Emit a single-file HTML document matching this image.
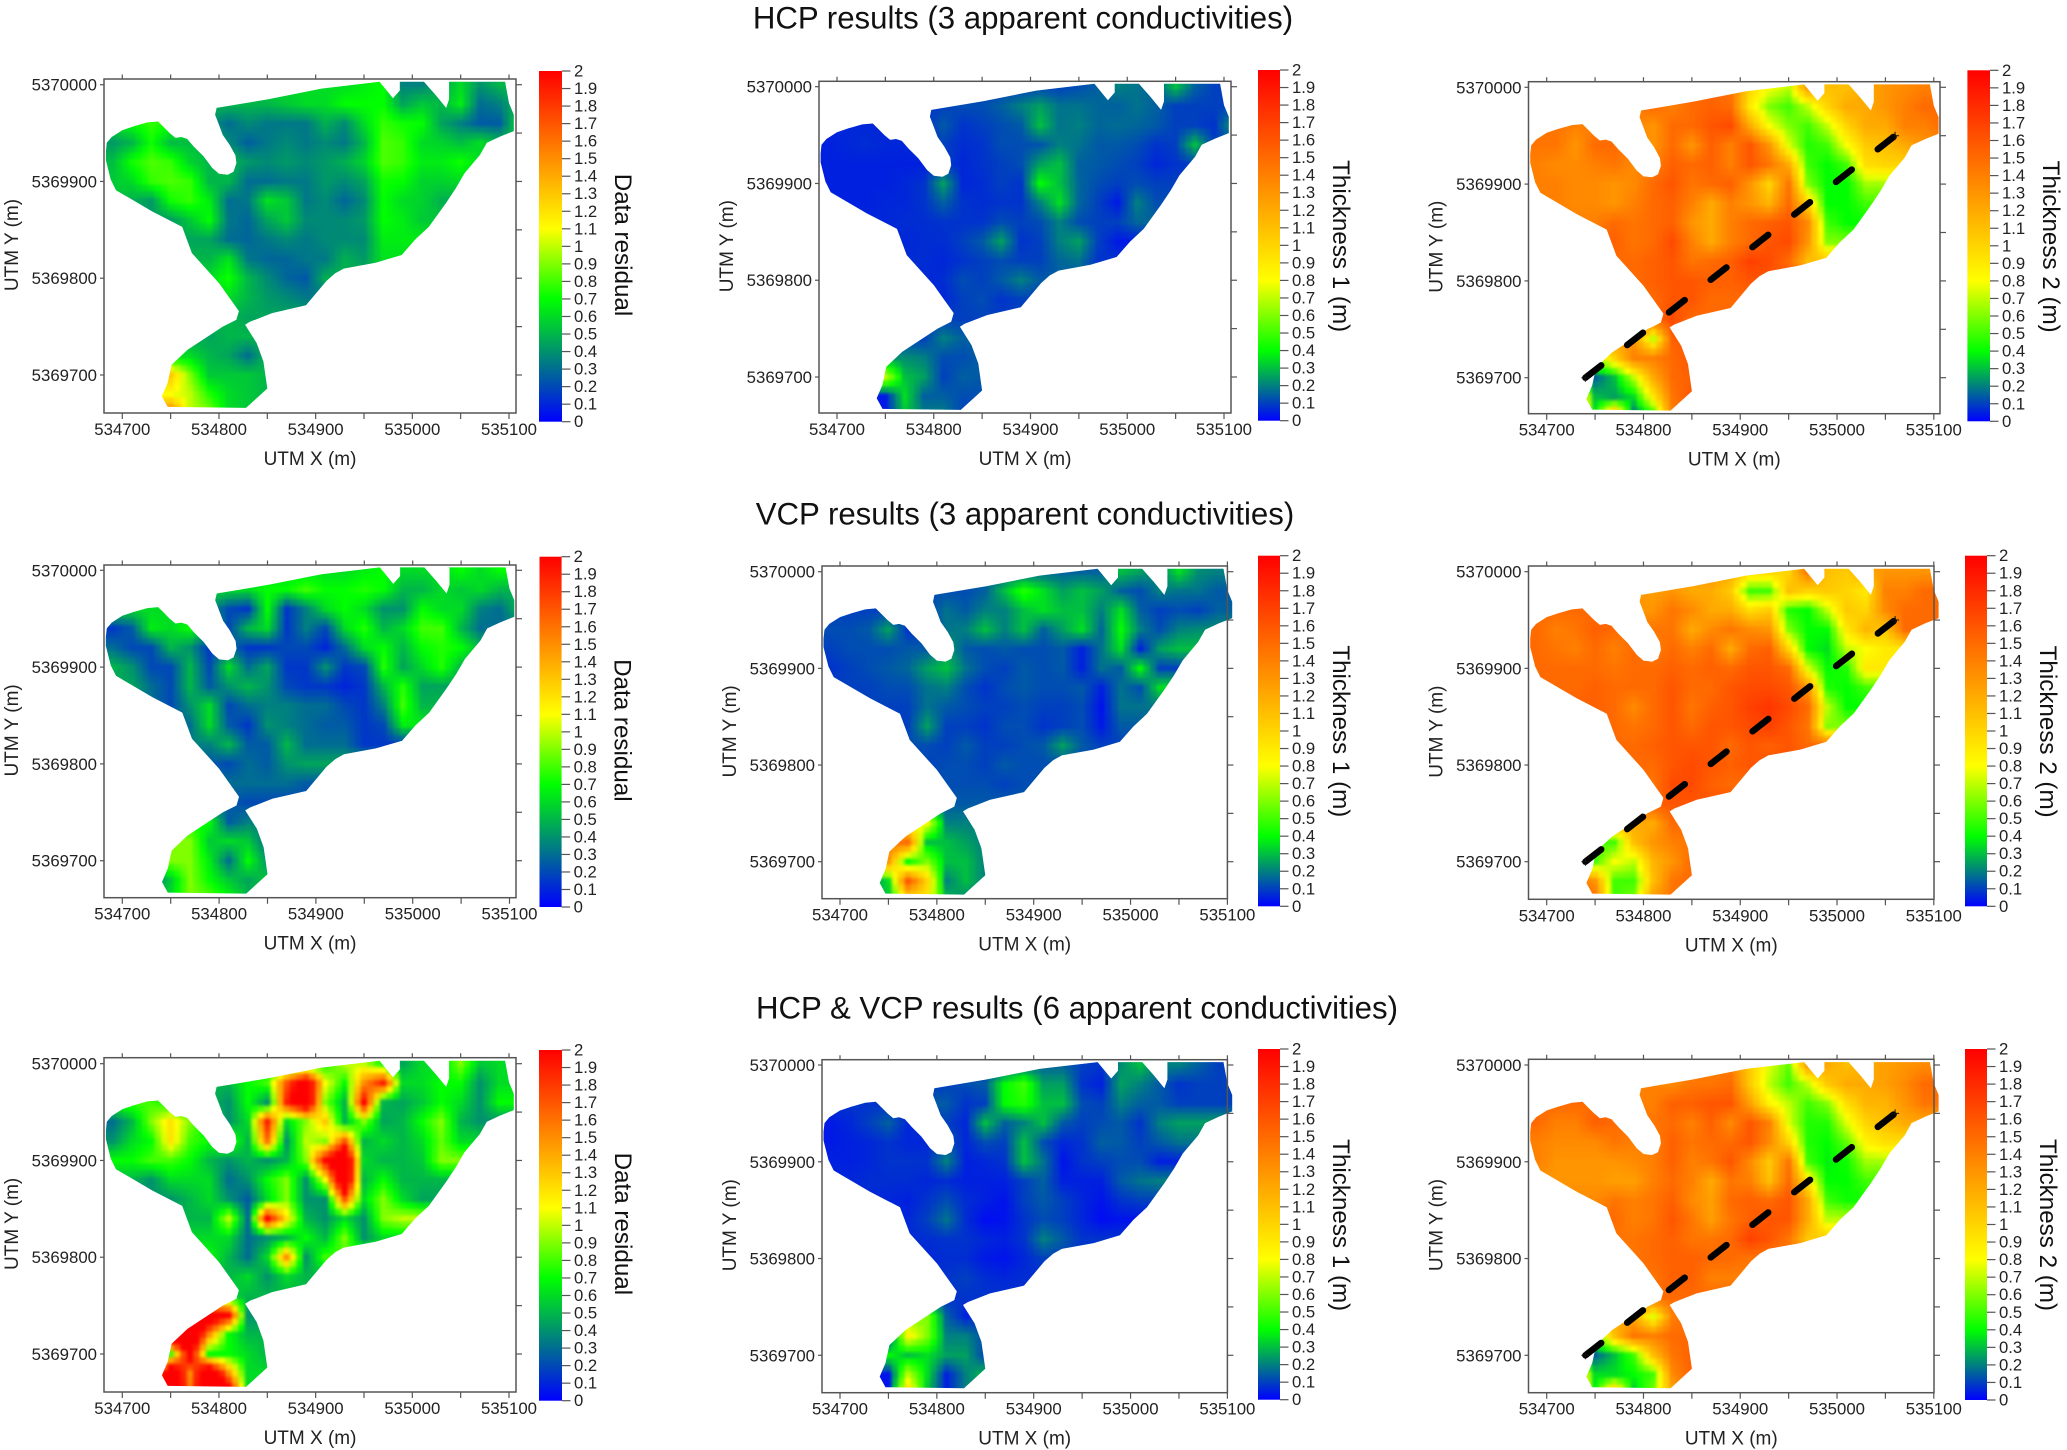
<!DOCTYPE html>
<html lang="en">
<head>
<meta charset="utf-8">
<title>HCP and VCP inversion results</title>
<style>
html,body{margin:0;padding:0;background:#fff;}
svg{display:block;font-family:"Liberation Sans",Arial,sans-serif;}
</style>
</head>
<body>
<svg id="figure" xmlns="http://www.w3.org/2000/svg" width="2067" height="1450" viewBox="0 0 2067 1450">
  <defs>
    <filter id="soft" x="-6%" y="-6%" width="112%" height="112%" color-interpolation-filters="sRGB">
      <feGaussianBlur stdDeviation="1.6"/>
    </filter>
  </defs>
  <rect width="2067" height="1450" fill="#fff"/>
  <text x="1023" y="28.5" font-size="31.2" text-anchor="middle" fill="#111">HCP results (3 apparent conductivities)</text>
  <text x="1025" y="524.3" font-size="31.2" text-anchor="middle" fill="#111">VCP results (3 apparent conductivities)</text>
  <text x="1077" y="1018.3" font-size="31.2" text-anchor="middle" fill="#111">HCP &amp; VCP results (6 apparent conductivities)</text>
</svg>
<script>
// ---- Axis tick values and colorbar labels
const xTickValues = [534700,534750,534800,534850,534900,534950,535000,535050,535100];
const yTickValues = [5370000,5369950,5369900,5369850,5369800,5369750,5369700];
const colorbarTicks = [0,0.1,0.2,0.3,0.4,0.5,0.6,0.7,0.8,0.9,1,1.1,1.2,1.3,1.4,1.5,1.6,1.7,1.8,1.9,2];

// ---- Survey footprint outline, UTM metres
const footprintX = [534683,534684,534689,534700,534712,534726,534737,534742,534749,534755,534761,534767,534774,534784,534793,534800,534809,534815,534818,534817,534811,534804,534800,534796,534797.5,534851,534906,534966,534980,534987,534987,535012,535024,535035,535038,535038,535096,535100,535105,535105,535091,535077,535070,535054,535045,535035,535017,535003,534989,534962,534929,534920,534911,534890,534855,534832,534827,534839,534846,534850,534828,534747,534741,534747,534751,534767.5,534804,534818,534820.6,534800,534772,534762,534731,534693.5,534688,534683];
const footprintY = [5369931,5369940,5369946,5369953,5369957,5369961,5369962,5369957,5369950,5369945,5369946,5369944,5369936,5369926,5369914,5369908,5369907,5369910,5369919,5369927,5369938,5369948,5369958.5,5369969,5369976,5369985,5369996,5370003,5369986,5369994,5370003,5370003,5369989.5,5369976,5369985,5370003,5370003,5369981,5369969,5369952,5369946.5,5369940,5369927.5,5369908.5,5369893,5369878,5369853,5369840,5369824,5369816,5369810,5369805,5369797,5369772,5369764,5369755,5369752,5369733,5369714,5369686,5369666,5369667,5369678,5369692,5369710.5,5369726,5369750,5369757,5369766,5369795,5369826,5369853,5369869,5369891,5369902,5369922];

// ---- Profile line shown on the thickness 2 maps
const profileX = [534740,535060];
const profileY = [5369700,5369950];

// ---- Grid axes: cell centres
const gridStartX = 534690;
const gridStartY = 5370000;
const gridStep = 20;

// ---- Map values in hundredths, one row per 20 m northing
const hcpResidual = [
[60,60,60,60,60,60,60,60,60,60,60,60,60,65,70,35,35,45,60,40,50,50],
[60,60,60,60,60,50,50,50,50,55,60,60,70,70,70,45,55,50,65,30,35,50],
[60,70,78,72,60,40,30,38,33,33,33,48,38,60,78,72,70,45,35,25,25,60],
[42,50,72,52,52,50,38,26,33,38,33,38,33,50,82,78,60,58,52,60,50,50],
[52,72,82,78,58,50,50,42,38,42,38,42,48,58,82,78,65,65,72,60],
[55,60,78,82,78,50,50,30,30,33,33,42,38,45,72,70,58,58,60],
[55,48,42,72,78,65,30,33,62,55,33,38,28,38,70,60,58,48],
[50,50,42,42,55,70,33,28,45,55,38,38,38,42,70,65,55],
[50,50,48,48,45,45,30,28,33,38,33,38,38,38,65,65],
[50,50,50,50,50,50,62,33,28,28,33,33,48,42,62],
[60,60,60,60,60,60,72,50,38,28,24,48],
[60,60,60,60,60,60,60,50,42,38,33],
[50,50,50,50,50,50,50,45],
[45,45,45,45,45,45,50,50],
[60,60,60,60,60,50,45,30,50],
[130,130,130,130,90,55,55,55,50],
[110,110,110,110,100,75,60,55,50],
[160,160,160,160,100,90,60,55]
];
const hcpThickness1 = [
[10,10,10,10,10,10,10,10,10,10,10,10,10,12,15,20,18,15,30,15,10],
[8,8,8,8,8,8,10,12,12,15,20,25,18,18,16,15,18,15,10,10,10],
[6,6,6,6,6,8,14,8,10,12,14,30,18,20,16,17,16,14,10,10,8,25],
[5,6,7,6,6,8,10,7,8,12,12,13,20,18,14,14,12,8,10,30,10],
[5,5,5,5,5,5,10,6,8,10,12,25,30,15,14,12,10,6,8,10],
[5,5,5,5,6,8,25,6,7,10,8,40,30,16,12,10,12,10,10],
[5,5,5,6,6,8,15,8,7,8,8,20,35,16,10,4,20,12],
[6,6,6,6,7,7,8,8,8,12,10,12,20,12,10,10,16],
[6,6,6,6,6,7,7,10,14,25,8,10,20,25,10,4],
[7,7,7,7,7,7,6,8,10,12,10,10,16,18,8],
[6,6,6,6,6,6,7,12,10,14,20,14],
[8,8,8,8,8,8,6,10,12,8,10],
[10,10,10,10,10,10,10,10],
[10,10,10,10,10,10,20,15],
[22,22,22,22,22,20,12,12,15],
[70,70,70,70,30,25,10,15,14],
[4,4,4,4,35,15,15,12,12],
[4,4,4,4,30,20,20,10]
];
const hcpThickness2 = [
[150,150,150,150,150,150,150,150,150,150,145,100,80,70,130,110,110,120,130,135,140],
[145,145,145,145,145,140,150,140,150,155,150,90,60,50,70,100,120,120,130,140,150],
[145,145,140,140,140,140,130,150,150,160,165,120,80,60,50,70,100,120,120,140,140,150],
[145,145,130,150,150,140,130,150,130,155,140,160,130,75,45,50,80,105,110,120,130],
[140,135,135,140,145,135,140,155,150,155,140,160,145,120,50,40,50,95,100,100],
[140,140,135,135,130,135,150,160,145,150,155,130,100,145,60,40,40,65,65],
[140,140,135,135,130,140,150,155,140,120,140,130,115,150,100,40,40,50],
[140,140,140,140,150,145,150,155,130,120,140,150,155,160,135,50,40],
[155,155,155,155,155,145,150,165,140,120,140,150,160,165,130,60],
[150,150,150,150,150,150,155,160,145,150,155,170,165,150,110],
[150,150,150,150,150,150,155,160,160,155,155,160],
[150,150,150,150,150,150,150,160,160,150,150],
[150,150,150,150,150,150,150,165,150],
[130,130,130,130,130,130,70,155,160],
[60,60,60,60,100,140,140,150,160],
[15,15,15,15,30,70,120,150,155],
[140,140,140,30,25,35,90,145,160],
[140,140,140,40,130,15,40,140,155]
];
const vcpResidual = [
[60,60,60,60,60,60,60,60,60,60,60,60,60,65,70,60,60,60,70,60,70],
[60,60,60,60,60,60,60,60,70,70,80,70,70,75,70,50,50,60,55,60,50],
[60,60,60,60,60,40,20,15,70,15,35,60,70,60,40,40,70,60,60,35,30,50],
[15,25,65,60,70,50,20,50,60,15,35,20,60,75,50,60,80,80,50,30,30],
[30,20,20,50,40,15,30,15,15,20,20,10,30,60,70,50,70,75,70,50],
[50,40,20,20,50,20,60,30,45,15,15,40,15,20,75,45,60,75,50],
[45,45,30,20,50,25,40,50,40,20,15,15,10,15,50,75,45,45],
[30,30,30,20,40,60,20,30,35,35,30,30,20,15,35,80,50],
[30,30,30,30,30,60,25,15,40,35,30,25,25,15,20,65],
[35,35,35,35,35,35,50,25,25,50,30,30,30,15,15],
[25,25,25,25,25,25,20,30,25,40,45],
[30,30,30,30,30,30,30,30,30,30,25],
[25,25,25,25,25,25,25,20],
[70,70,70,70,70,70,25,35],
[90,90,90,90,90,55,60,55,30],
[90,90,90,90,90,65,30,70,40],
[30,30,30,55,90,70,55,45,55],
[60,60,60,60,90,85,70,50]
];
const vcpThickness1 = [
[15,15,15,15,15,15,15,15,15,15,15,15,15,15,15,30,25,20,35,22,20],
[12,12,12,12,12,12,12,12,15,30,45,35,25,30,25,15,12,20,18,18,14],
[10,10,10,10,10,10,18,14,20,20,30,35,30,30,20,35,15,10,12,10,15],
[12,12,14,25,8,10,18,20,30,20,30,15,25,35,16,40,20,12,20,22,22],
[10,12,12,12,14,14,25,14,12,14,12,12,14,5,18,35,5,25,30,30],
[8,10,12,14,16,25,30,18,12,10,14,12,14,5,18,14,40,10,10],
[10,10,10,12,12,18,20,12,8,12,14,12,12,14,5,18,12,35],
[10,10,10,10,10,18,14,12,10,10,12,10,10,12,3,18,18],
[10,10,10,10,10,25,10,10,8,12,12,8,10,12,4,14],
[12,12,12,12,12,12,10,14,10,10,12,14,25,14,10],
[10,10,10,10,10,10,12,12,10,14,12],
[12,12,12,12,12,12,12,12,12,10,12],
[14,14,14,14,14,14,14,14],
[80,80,80,80,80,80,20,20],
[140,140,140,140,150,30,30,25,20],
[130,130,130,130,40,60,30,30,20],
[20,20,20,35,160,100,20,30,20],
[30,30,30,30,90,90,30,20]
];
const vcpThickness2 = [
[130,130,130,130,130,130,130,130,130,130,120,100,100,100,145,110,105,120,130,130,130],
[150,150,150,150,150,130,125,130,120,120,105,50,50,110,100,105,100,90,140,140,150],
[150,150,150,150,150,130,130,145,135,120,120,95,105,45,40,70,105,100,135,150,150],
[150,140,145,155,150,145,145,145,120,135,145,135,130,60,40,40,90,115,105,150,150],
[150,145,140,150,140,150,140,150,140,150,120,150,155,100,40,35,70,80,90,90],
[150,150,150,150,145,150,150,155,150,155,150,160,160,150,75,40,45,90,90],
[150,150,150,155,150,150,150,160,150,150,160,165,165,160,130,45,40,50],
[155,155,155,155,150,135,150,160,145,155,160,170,175,165,150,70,40],
[150,150,150,150,150,145,150,160,150,160,160,165,170,160,145,60],
[150,150,150,150,150,150,155,160,160,160,150,160,155,160,150],
[150,150,150,150,150,150,150,160,165,160,155,160],
[150,150,150,150,150,150,145,165,165,155,150],
[155,155,155,155,155,155,155,160],
[120,120,120,120,120,120,120,150,150],
[50,50,50,50,50,110,130,140,145],
[50,50,50,50,80,70,115,130,150],
[150,150,150,130,50,50,110,145,150],
[150,150,150,150,50,60,130,145]
];
const jointResidual = [
[60,60,60,60,60,60,60,60,60,60,60,70,100,100,70,45,60,60,90,55,60],
[50,50,50,50,50,50,50,70,80,170,230,110,70,150,190,60,60,70,70,40,60],
[70,80,80,70,60,50,40,70,40,190,240,90,50,200,50,45,55,70,60,40,70],
[30,50,90,120,90,60,40,60,190,60,90,130,50,90,45,50,70,90,50,40,40],
[40,60,70,120,80,70,80,50,160,40,100,90,170,50,60,50,60,85,60,60],
[70,70,80,80,70,50,40,50,40,50,90,200,260,60,50,50,55,90,90],
[50,50,40,60,60,60,30,40,70,90,40,110,260,50,70,50,50,50],
[40,40,40,40,50,60,40,25,60,90,40,40,170,60,90,60,45],
[50,50,50,50,50,50,100,30,200,120,50,40,60,40,90,100],
[60,60,60,60,60,60,60,30,40,50,70,50,90,40,60],
[70,70,70,70,70,70,50,30,60,150,40,80],
[50,50,50,50,50,50,50,60,40,60,50],
[40,40,40,40,40,60,60,50],
[240,240,240,240,240,240,200,40],
[260,260,260,260,260,150,70,50,50],
[80,80,80,80,220,70,70,60,50],
[80,80,80,260,150,260,150,60,60],
[260,260,260,260,160,260,230,60]
];
const jointThickness1 = [
[10,10,10,10,10,10,10,10,10,10,15,15,15,10,8,22,30,20,20,15,10],
[8,8,8,8,8,8,10,12,14,40,50,25,25,8,5,25,20,14,8,10,10],
[8,8,8,8,8,15,14,8,10,40,45,30,30,12,10,20,15,14,10,10,10],
[4,6,10,15,6,8,10,6,30,15,20,30,14,10,12,14,8,20,25,25],
[4,5,6,8,6,6,14,6,12,10,30,12,6,8,15,14,10,14,18,18],
[5,5,6,8,8,8,20,5,6,8,30,18,3,8,10,12,12,5,5],
[6,6,7,7,7,6,7,5,5,5,10,15,5,5,5,14,18,20],
[6,6,6,6,5,8,12,7,5,3,10,14,10,6,3,8,10],
[6,6,6,6,6,10,18,7,2,3,8,12,10,6,2,3],
[7,7,7,7,7,7,8,8,6,5,8,20,14,8],
[6,6,6,6,6,6,7,7,4,3,6,10],
[8,8,8,8,8,8,8,10,7,6,7],
[8,8,8,8,8,8,8,8],
[60,60,60,60,60,60,15,5,10],
[5,5,5,5,85,60,20,20,12],
[40,40,40,40,30,35,25,25,10],
[3,3,3,3,70,35,5,20,30],
[3,3,3,3,100,30,5,20]
];
const jointThickness2 = [
[140,140,140,140,140,140,140,140,140,140,140,105,75,55,130,120,110,120,125,130,135],
[150,150,150,150,150,140,140,135,145,145,150,105,70,50,70,105,120,120,125,135,150],
[150,150,150,150,150,140,140,155,155,160,160,125,85,70,50,60,95,115,115,130,145],
[150,140,140,155,150,145,145,150,140,155,135,160,140,75,45,45,75,100,110,120,120],
[140,135,135,135,145,140,140,155,145,150,150,160,135,100,45,40,55,85,95,95],
[140,130,130,130,130,135,140,155,140,145,160,135,105,145,50,38,42,65,65],
[130,130,130,130,125,125,140,150,140,120,145,140,110,150,90,40,40,50],
[135,135,135,135,145,140,145,155,135,125,150,155,150,160,120,50,42],
[150,150,150,150,150,140,145,160,145,125,145,155,160,160,120,70],
[145,145,145,145,145,145,150,155,145,145,150,170,160,145,105],
[145,145,145,145,145,145,150,155,155,150,150,145],
[150,150,150,150,150,150,145,155,155,140,140],
[150,150,150,150,150,150,150,150],
[120,120,120,120,120,120,75,140,150],
[50,50,50,50,110,145,140,150,150],
[15,15,15,15,30,50,110,145,155],
[130,130,130,35,35,40,50,135,155],
[130,130,130,40,120,30,60,120,150]
];

// ---- Colour scales (value, rgb)
const residualScale = [[0,[0,0,255]],[0.7,[0,255,0]],[1.1,[255,255,0]],[2,[255,0,0]]];
const thicknessScale = [[0,[0,0,255]],[0.4,[0,255,0]],[0.8,[255,255,0]],[2,[255,0,0]]];

// ---- Panel layout
const panels = [
 {id:'hcp-residual',grid:hcpResidual,scale:residualScale,label:'Data residual',profile:false,fx0:104,fx1:516,fy0:79,fy1:413,xa:122.3,xb:509,ya:84.7,yb:375,cx0:539,cx1:562,cy0:71,cy1:421.7},
 {id:'hcp-thickness-1',grid:hcpThickness1,scale:thicknessScale,label:'Thickness 1 (m)',profile:false,fx0:819,fx1:1231,fy0:81.3,fy1:413,xa:837,xb:1224,ya:86.7,yb:377,cx0:1258,cx1:1280,cy0:70,cy1:420.7},
 {id:'hcp-thickness-2',grid:hcpThickness2,scale:thicknessScale,label:'Thickness 2 (m)',profile:true,fx0:1528.5,fx1:1940,fy0:81.7,fy1:413.7,xa:1546.7,xb:1933.8,ya:87.3,yb:377.7,cx0:1967.4,cx1:1990,cy0:70.3,cy1:421.3},
 {id:'vcp-residual',grid:vcpResidual,scale:residualScale,label:'Data residual',profile:false,fx0:104,fx1:516,fy0:565,fy1:897.7,xa:122.3,xb:509.5,ya:570.3,yb:860.7,cx0:539.5,cx1:561.6,cy0:556.7,cy1:907},
 {id:'vcp-thickness-1',grid:vcpThickness1,scale:thicknessScale,label:'Thickness 1 (m)',profile:false,fx0:822,fx1:1227.4,fy0:566,fy1:898.7,xa:840,xb:1227.4,ya:571.7,yb:861.7,cx0:1258,cx1:1280,cy0:555.7,cy1:906.3},
 {id:'vcp-thickness-2',grid:vcpThickness2,scale:thicknessScale,label:'Thickness 2 (m)',profile:true,fx0:1528.5,fx1:1934,fy0:566,fy1:899.3,xa:1546.7,xb:1933.8,ya:571.7,yb:861.7,cx0:1965,cx1:1987,cy0:555.7,cy1:906.3},
 {id:'joint-residual',grid:jointResidual,scale:residualScale,label:'Data residual',profile:false,fx0:104,fx1:516,fy0:1057.7,fy1:1392,xa:122.3,xb:509,ya:1063.7,yb:1354,cx0:539,cx1:562,cy0:1050,cy1:1400.7},
 {id:'joint-thickness-1',grid:jointThickness1,scale:thicknessScale,label:'Thickness 1 (m)',profile:false,fx0:822,fx1:1227.4,fy0:1059.7,fy1:1392.7,xa:840,xb:1227.4,ya:1065,yb:1355.3,cx0:1258,cx1:1280,cy0:1049,cy1:1399.7},
 {id:'joint-thickness-2',grid:jointThickness2,scale:thicknessScale,label:'Thickness 2 (m)',profile:true,fx0:1528.5,fx1:1934,fy0:1059.3,fy1:1392.7,xa:1546.7,xb:1933.8,ya:1065,yb:1355.3,cx0:1965,cx1:1987,cy0:1049,cy1:1400}
];

const NS = 'http://www.w3.org/2000/svg';
const figure = document.getElementById('figure');
const defs = figure.querySelector('defs');
const SUB = 3;
const INK = '#222';
const AXIS = '#555';

function make(tag, attrs, parent){
  const e = document.createElementNS(NS, tag);
  for (const k in attrs) e.setAttribute(k, attrs[k]);
  parent.appendChild(e);
  return e;
}
function colorFor(stops, v){
  if (v <= stops[0][0]) return stops[0][1];
  for (let i = 1; i < stops.length; i++){
    if (v <= stops[i][0]){
      const t = (v - stops[i-1][0]) / (stops[i][0] - stops[i-1][0]);
      const a = stops[i-1][1], b = stops[i][1];
      return [a[0]+(b[0]-a[0])*t, a[1]+(b[1]-a[1])*t, a[2]+(b[2]-a[2])*t];
    }
  }
  return stops[stops.length-1][1];
}
function css(c){ return 'rgb(' + Math.round(c[0]) + ',' + Math.round(c[1]) + ',' + Math.round(c[2]) + ')'; }
function cellValue(rows, r, c){
  const row = rows[Math.max(0, Math.min(rows.length-1, r))];
  return row[Math.max(0, Math.min(row.length-1, c))] / 100;
}
function sample(rows, rf, cf){
  const r0 = Math.floor(rf), c0 = Math.floor(cf), tr = rf - r0, tc = cf - c0;
  const top = cellValue(rows, r0, c0)*(1-tc) + cellValue(rows, r0, c0+1)*tc;
  const bot = cellValue(rows, r0+1, c0)*(1-tc) + cellValue(rows, r0+1, c0+1)*tc;
  return top*(1-tr) + bot*tr;
}
function inFootprint(x, y){
  let inside = false;
  for (let i = 0, j = footprintX.length-1; i < footprintX.length; j = i++){
    const yi = footprintY[i], yj = footprintY[j];
    if ((yi > y) !== (yj > y) && x < (footprintX[j]-footprintX[i])*(y-yi)/(yj-yi)+footprintX[i]) inside = !inside;
  }
  return inside;
}
function nearFootprint(x, y){
  const d = 9;
  return inFootprint(x,y) || inFootprint(x-d,y) || inFootprint(x+d,y) || inFootprint(x,y-d) || inFootprint(x,y+d) ||
         inFootprint(x-d,y-d) || inFootprint(x+d,y-d) || inFootprint(x-d,y+d) || inFootprint(x+d,y+d);
}

const rowCount = hcpResidual.length;
const colCount = 22;
const keepMask = [];
for (let r = 0; r < rowCount*SUB; r++){
  keepMask.push([]);
  for (let c = 0; c < colCount*SUB; c++){
    const X = gridStartX - gridStep/2 + (c+0.5)*gridStep/SUB;
    const Y = gridStartY + gridStep/2 - (r+0.5)*gridStep/SUB;
    keepMask[r].push(nearFootprint(X, Y));
  }
}

panels.forEach(function(p){
  const xScale = function(v){ return p.xa + (v - 534700) * (p.xb - p.xa) / 400; };
  const yScale = function(v){ return p.ya + (5370000 - v) * (p.yb - p.ya) / 300; };
  const barScale = function(v){ return p.cy1 - v * (p.cy1 - p.cy0) / 2; };

  const group = make('g', {}, figure);
  
  

  const clip = make('clipPath', {id:'clip-' + p.id}, defs);
  const clipShape = make('polygon', {points: footprintX.map(function(x,i){ return xScale(x).toFixed(1)+','+yScale(footprintY[i]).toFixed(1); }).join(' ')}, clip);
  
  

  const clipped = make('g', {'clip-path':'url(#clip-' + p.id + ')'}, group);
  
  
  const blurred = make('g', {filter:'url(#soft)'}, clipped);
  
  

  for (let r = 0; r < rowCount*SUB; r++){
    for (let c = 0; c < colCount*SUB; c++){
      if (!keepMask[r][c]) continue;
      const X0 = gridStartX - gridStep/2 + c*gridStep/SUB;
      const X1 = X0 + gridStep/SUB;
      const Y0 = gridStartY + gridStep/2 - r*gridStep/SUB;
      const Y1 = Y0 - gridStep/SUB;
      const cf = ((X0+X1)/2 - gridStartX) / gridStep;
      const rf = (gridStartY - (Y0+Y1)/2) / gridStep;
      const value = sample(p.grid, rf, cf);
      const cell = make('rect', {
        x: xScale(X0).toFixed(2), y: yScale(Y0).toFixed(2),
        width: (xScale(X1)-xScale(X0)+0.6).toFixed(2), height: (yScale(Y1)-yScale(Y0)+0.6).toFixed(2),
        fill: css(colorFor(p.scale, value))
      }, blurred);
      
      
    }
  }

  if (p.profile){
    const dash = make('line', {
      x1: xScale(profileX[0]), y1: yScale(profileY[0]), x2: xScale(profileX[1]), y2: yScale(profileY[1]),
      stroke:'#000', 'stroke-width':6.5, 'stroke-linecap':'round', 'stroke-dasharray':'20 33'
    }, group);
    
    
    profileX.forEach(function(px, i){
      const cx = xScale(px), cy = yScale(profileY[i]);
      const mark = make('path', {d:'M'+(cx-4)+' '+cy+'H'+(cx+4)+'M'+cx+' '+(cy-4)+'V'+(cy+4), stroke:'#111', 'stroke-width':1, fill:'none'}, group);
      
      
    });
  }

  const frame = make('rect', {x:p.fx0, y:p.fy0, width:p.fx1-p.fx0, height:p.fy1-p.fy0, fill:'none', stroke:AXIS, 'stroke-width':1.5}, group);
  
  

  xTickValues.forEach(function(v){
    const x = xScale(v);
    const ticks = make('path', {d:'M'+x+' '+(p.fy1)+'v6M'+x+' '+(p.fy0)+'v-4.5', stroke:AXIS, 'stroke-width':1.2, fill:'none'}, group);
    
    
    if (v % 100 === 0){
      const t = make('text', {x:x, y:p.fy1+22, 'font-size':16.8, 'text-anchor':'middle', fill:INK}, group);
      t.textContent = String(v);
      
      
    }
  });
  yTickValues.forEach(function(v){
    const y = yScale(v);
    const right = make('path', {d:'M'+p.fx1+' '+y+'h6', stroke:AXIS, 'stroke-width':1.2, fill:'none'}, group);
    
    
    if (v % 100 === 0){
      const left = make('path', {d:'M'+p.fx0+' '+y+'h-4', stroke:AXIS, 'stroke-width':1.2, fill:'none'}, group);
      
      
      const t = make('text', {x:p.fx0-7, y:y+6, 'font-size':16.8, 'text-anchor':'end', fill:INK}, group);
      t.textContent = String(v);
      
      
    }
  });

  const xTitle = make('text', {x:(p.fx0+p.fx1)/2, y:p.fy1+52, 'font-size':19, 'text-anchor':'middle', fill:INK}, group);
  xTitle.textContent = 'UTM X (m)';
  
  
  const ymid = (p.fy0+p.fy1)/2 - 1;
  const yTitle = make('text', {x:p.fx0-86, y:ymid, 'font-size':19, 'text-anchor':'middle', fill:INK, transform:'rotate(-90 '+(p.fx0-86)+' '+ymid+')'}, group);
  yTitle.textContent = 'UTM Y (m)';
  
  

  const grad = make('linearGradient', {id:'grad-' + p.id, x1:0, y1:1, x2:0, y2:0}, defs);
  p.scale.forEach(function(s){
    make('stop', {offset:s[0]/2, 'stop-color':css(s[1])}, grad);
  });
  const bar = make('rect', {x:p.cx0, y:p.cy0, width:p.cx1-p.cx0, height:p.cy1-p.cy0, fill:'url(#grad-' + p.id + ')'}, group);
  
  
  colorbarTicks.forEach(function(v){
    const y = barScale(v);
    const tick = make('path', {d:'M'+p.cx1+' '+y+'h8.5', stroke:AXIS, 'stroke-width':1.2, fill:'none'}, group);
    
    
    const t = make('text', {x:p.cx1+12, y:y+5.5, 'font-size':16.7, fill:INK}, group);
    t.textContent = String(v);
    
    
  });
  const bx = p.cx1 + 53;
  const by = (p.fy0+p.fy1)/2 - 1;
  const barTitle = make('text', {x:bx, y:by, 'font-size':24.2, 'text-anchor':'middle', fill:'#111', transform:'rotate(90 '+bx+' '+by+')'}, group);
  barTitle.textContent = p.label;
  
  
});
</script>
</body>
</html>
